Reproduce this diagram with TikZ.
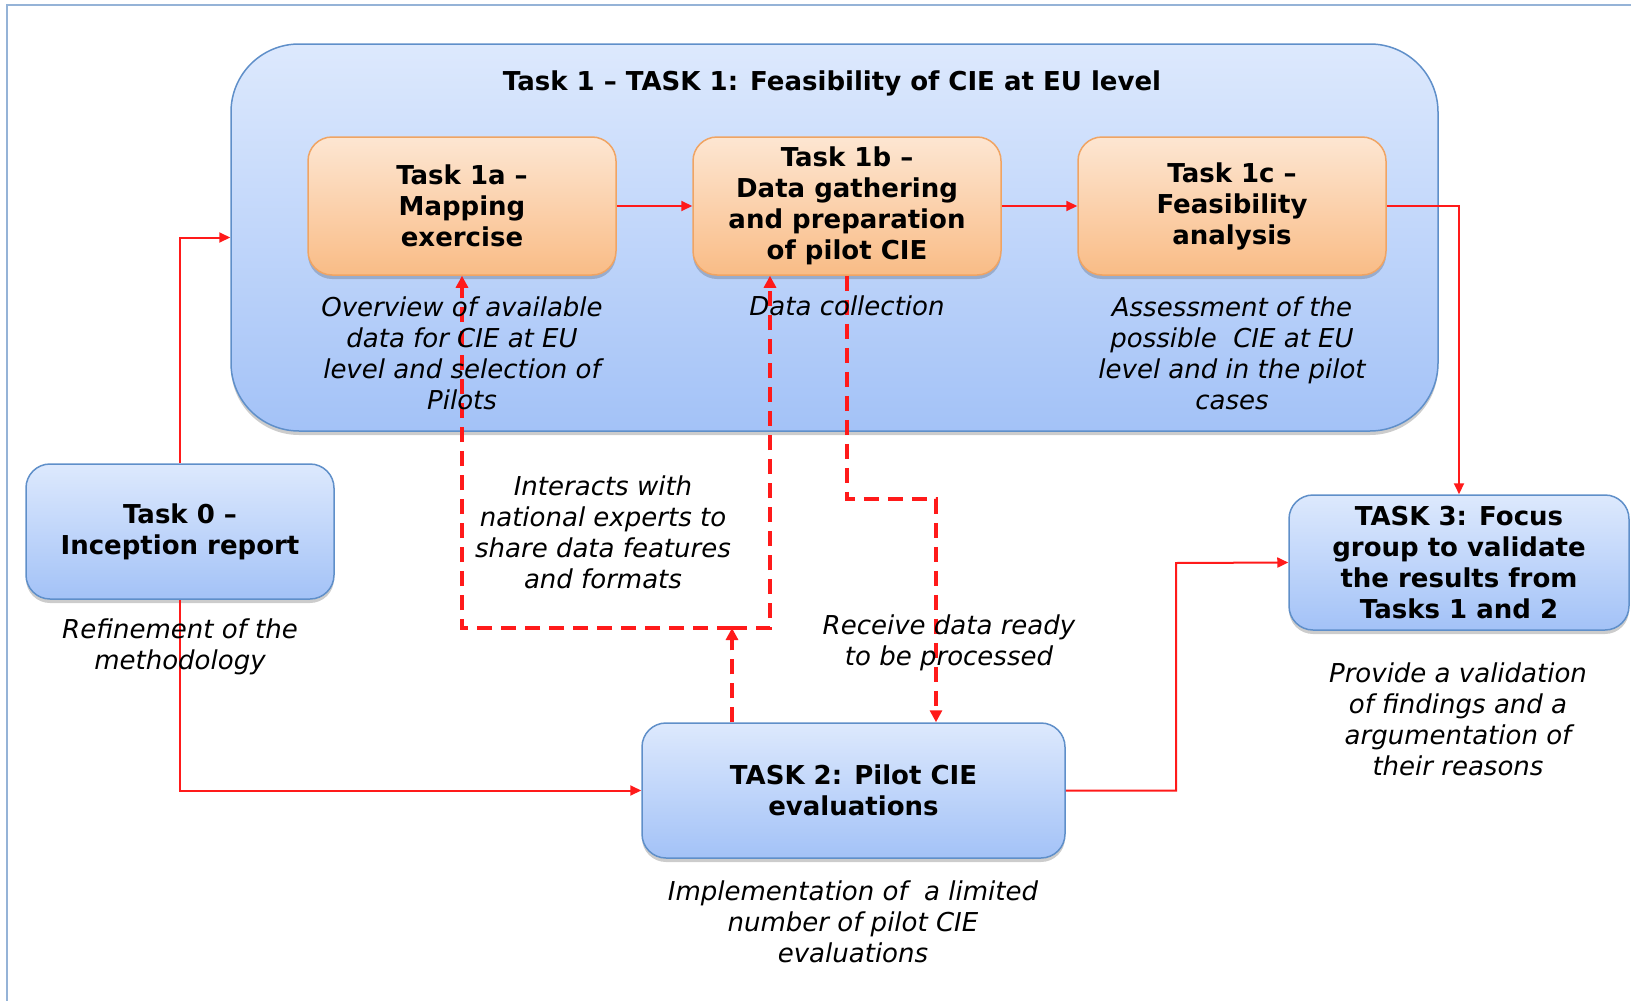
\documentclass[tikz,border=0pt]{standalone}
\usepackage{fontspec}
\setmainfont{DejaVu Sans}
\usetikzlibrary{arrows.meta,shadows}
\definecolor{bluetop}{HTML}{DDE9FD}
\definecolor{bluebot}{HTML}{A3C2F7}
\definecolor{blueedge}{HTML}{5F8FC9}
\definecolor{orangetop}{HTML}{FDE6D2}
\definecolor{orangebot}{HTML}{F9BC86}
\definecolor{orangeedge}{HTML}{F0A463}
\definecolor{frameblue}{HTML}{95B3D7}
\definecolor{linered}{HTML}{FF1A1A}
\begin{document}
\begin{tikzpicture}[x=1pt,y=-1pt,
  boxfont/.style={font=\bfseries\fontsize{26}{31}\selectfont},
  desc/.style={font=\itshape\fontsize{26}{31}\selectfont, align=center, inner sep=0pt},
  bluebox/.style={draw=blueedge, line width=1.5pt, rounded corners=24pt,
    top color=bluetop, bottom color=bluebot, align=center, boxfont, inner sep=0pt,
    drop shadow={shadow xshift=0pt, shadow yshift=-4pt, opacity=0.2, fill=black}},
  outerbox/.style={draw=blueedge, line width=1.5pt, rounded corners=68pt,
    top color=bluetop, bottom color=bluebot, inner sep=0pt,
    drop shadow={shadow xshift=0pt, shadow yshift=-4pt, opacity=0.2, fill=black}},
  orangebox/.style={draw=orangeedge, line width=1.5pt, rounded corners=24pt,
    top color=orangetop, bottom color=orangebot, align=center, boxfont, inner sep=0pt,
    minimum width=308pt, minimum height=138pt,
    drop shadow={shadow xshift=0pt, shadow yshift=-4pt, opacity=0.18, fill=black}},
  conn/.style={draw=linered, line width=2pt, -{Triangle[length=11pt,width=10pt]}},
  dconn/.style={draw=linered, line width=3.5pt, dash pattern=on 15pt off 9pt,
    -{Triangle[length=12pt,width=12pt]}}
]
\useasboundingbox (0,0) rectangle (1631,1001);
\draw[draw=frameblue, line width=2pt] (7,1001) -- (7,5) -- (1631,5);

% Task 1 container
\node[outerbox, minimum width=1207pt, minimum height=387pt] (t1) at (834.5,237.5) {};
\node[boxfont] (t1title) at (832,83) {Task 1 – TASK 1: Feasibility of CIE at EU level};

\node[orangebox] (t1a) at (462,206) {Task 1a –\\Mapping\\exercise};
\node[orangebox] (t1b) at (847,206) {Task 1b –\\Data gathering\\and preparation\\of pilot CIE};
\node[orangebox] (t1c) at (1232,206) {Task 1c –\\Feasibility\\analysis};

\node[bluebox, minimum width=308pt, minimum height=135pt] (t0) at (180,531.5) {Task 0 –\\Inception report};
\node[bluebox, minimum width=423pt, minimum height=135pt] (t2) at (853.5,790.5) {TASK 2: Pilot CIE\\evaluations};
\node[bluebox, minimum width=340pt, minimum height=135pt] (t3) at (1459,562.5) {TASK 3: Focus\\group to validate\\the results from\\Tasks 1 and 2};

% connectors
\coordinate (k2) at (1176,563);
\draw[conn] (t0.north) |- (t1.west);
\draw[conn] (t0.south) |- (t2.west);
\draw[conn] (t1a.east) -- (t1b.west);
\draw[conn] (t1b.east) -- (t1c.west);
\draw[conn] (t1c.east) -| (t3.north);
\draw[conn] (t2.east) -| (k2) -- (t3.west);

\coordinate (j) at (732,628);
\coordinate (jr) at (770,628);
\coordinate (k1) at (936,499);
\draw[dconn] (t2.north -| j) -- (j);
\draw[dconn] (j) -| (t1a.south);
\draw[dconn] (j) -- (jr) -- (jr |- t1b.south);
\draw[dconn] (t1b.south) |- (k1) -- (k1 |- t2.north);

% descriptions
\node[desc] (d1a) at (462,353) {Overview of available\\data for CIE at EU\\level and selection of\\Pilots};
\node[desc] (d1b) at (847,306) {Data collection};
\node[desc] (d1c) at (1232,353) {Assessment of the\\possible\ \ CIE at EU\\level and in the pilot\\cases};
\node[desc] (d0) at (180,647) {Refinement of the\\methodology};
\node[desc] (d2) at (853,922) {Implementation of\ \ a limited\\number of pilot CIE\\evaluations};
\node[desc] (d3) at (1458,719) {Provide a validation\\of findings and a\\argumentation of\\their reasons};
\node[desc] (dint) at (603,532) {Interacts with\\national experts to\\share data features\\and formats};
\node[desc] (drec) at (949,643) {Receive data ready\\to be processed};
\end{tikzpicture}
\end{document}
